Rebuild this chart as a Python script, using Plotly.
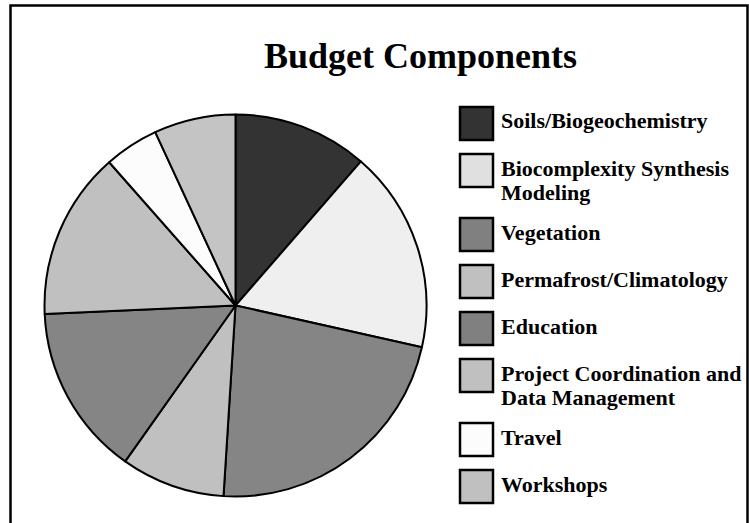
import plotly.graph_objects as go

W, H = 749, 523

categories = [
    "Soils/Biogeochemistry",
    "Biocomplexity Synthesis Modeling",
    "Vegetation",
    "Permafrost/Climatology",
    "Education",
    "Project Coordination and Data Management",
    "Travel",
    "Workshops",
]
legend_lines = [
    ["Soils/Biogeochemistry"],
    ["Biocomplexity Synthesis", "Modeling"],
    ["Vegetation"],
    ["Permafrost/Climatology"],
    ["Education"],
    ["Project Coordination and", "Data Management"],
    ["Travel"],
    ["Workshops"],
]
shares = [11.4, 17.1, 22.5, 8.8, 14.5, 14.2, 4.6, 6.9]
slice_colors = ["#333333", "#efefef", "#858585", "#c0c0c0", "#858585", "#c0c0c0", "#fcfcfc", "#c4c4c4"]
swatch_colors = ["#333333", "#e0e0e0", "#808080", "#c0c0c0", "#808080", "#c0c0c0", "#fcfcfc", "#c0c0c0"]
title_text = "Budget Components"

FONT = "Liberation Serif, Times New Roman, serif"


def px(x):
    return x / W


def py(y):
    return 1 - y / H


# pie geometry (pixels)
cx, cy, r = 235.5, 305.5, 191

fig = go.Figure()
fig.add_trace(go.Pie(
    labels=categories,
    values=shares,
    sort=False,
    direction="clockwise",
    rotation=0,
    textinfo="none",
    hoverinfo="label+percent",
    marker=dict(colors=slice_colors, line=dict(color="black", width=2)),
    domain=dict(x=[px(cx - r), px(cx + r)], y=[py(cy + r), py(cy - r)]),
    showlegend=False,
))

shapes = []
annotations = []

# outer frame (open at the bottom)
shapes.append(dict(type="rect", xref="paper", yref="paper",
                   x0=px(10.5), x1=px(747.5), y0=-0.2, y1=py(5.5),
                   line=dict(color="black", width=2.5), fillcolor="rgba(0,0,0,0)"))

# title
annotations.append(dict(text="<b>" + title_text + "</b>", xref="paper", yref="paper",
                        x=px(420.5), y=py(56), xanchor="center", yanchor="middle",
                        showarrow=False, font=dict(family=FONT, size=36, color="black")))

# custom legend with large swatches
top = 107
sw = 33
for lines, col in zip(legend_lines, swatch_colors):
    shapes.append(dict(type="rect", xref="paper", yref="paper",
                       x0=px(460), x1=px(460 + sw), y0=py(top + sw), y1=py(top),
                       line=dict(color="black", width=2.5), fillcolor=col))
    for i, ln in enumerate(lines):
        base = top + 21 + 24 * i
        annotations.append(dict(text="<b>" + ln + "</b>", xref="paper", yref="paper",
                                x=px(499), y=py(base - 7), xanchor="left", yanchor="middle",
                                showarrow=False,
                                font=dict(family=FONT, size=22, color="black")))
    top += 47 + 17 * (len(lines) - 1)

fig.update_layout(
    width=W, height=H,
    margin=dict(l=0, r=0, t=0, b=0),
    paper_bgcolor="white",
    plot_bgcolor="white",
    shapes=shapes,
    annotations=annotations,
)

fig.write_html("out.html")
